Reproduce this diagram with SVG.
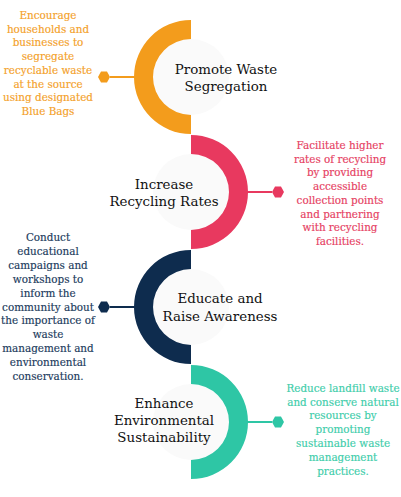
<svg xmlns="http://www.w3.org/2000/svg" width="401" height="497" viewBox="0 0 401 497">
<style>
.title{font-family:"DejaVu Serif","Liberation Serif",serif;font-size:13.4px;fill:#111;text-anchor:middle}
.desc{font-family:"DejaVu Serif","Liberation Serif",serif;font-size:10.4px;text-anchor:middle;stroke-width:0.15px}
.inner{fill:#fafafa}
.conn{stroke-width:2;fill:none}
</style>
<defs>
<polygon id="hex" points="-6,0 -3,-5.5 3,-5.5 6,0 3,5.5 -3,5.5"/>
</defs>
<rect width="401" height="497" fill="#ffffff"/>
<g id="connectors">
<line class="conn" x1="110" y1="77" x2="136" y2="77" stroke="#F39C1C"/>
<use href="#hex" x="104" y="77" fill="#F39C1C"/>
<line class="conn" x1="246" y1="192" x2="272" y2="192" stroke="#E8395F"/>
<use href="#hex" x="278" y="192" fill="#E8395F"/>
<line class="conn" x1="110" y1="307" x2="136" y2="307" stroke="#0E2C4E"/>
<use href="#hex" x="104" y="307" fill="#0E2C4E"/>
<line class="conn" x1="246" y1="422" x2="272" y2="422" stroke="#2EC6A5"/>
<use href="#hex" x="278" y="422" fill="#2EC6A5"/>
</g>
<g id="node1">
<circle class="inner" cx="191" cy="77" r="38"/>
<path d="M191,20 A57,57 0 0 0 191,134 L191,115 A38,38 0 0 1 191,39 Z" fill="#F39C1C"/>
<text class="title" x="226" y="74">Promote Waste</text>
<text class="title" x="226" y="91">Segregation</text>
<g class="desc" fill="#F4A12A" stroke="#F4A12A">
<text x="48" y="19">Encourage</text>
<text x="48" y="32.7">households and</text>
<text x="48" y="46.4">businesses to</text>
<text x="48" y="60.1">segregate</text>
<text x="48" y="73.8">recyclable waste</text>
<text x="48" y="87.5">at the source</text>
<text x="48" y="101.2">using designated</text>
<text x="48" y="114.9">Blue Bags</text>
</g>
</g>
<g id="node2">
<circle class="inner" cx="191" cy="192" r="38"/>
<path d="M191,135 A57,57 0 0 1 191,249 L191,230 A38,38 0 0 0 191,154 Z" fill="#E8395F"/>
<text class="title" x="164" y="188.5">Increase</text>
<text class="title" x="164" y="206">Recycling Rates</text>
<g class="desc" fill="#E63E62" stroke="#E63E62">
<text x="340" y="149">Facilitate higher</text>
<text x="340" y="162.7">rates of recycling</text>
<text x="340" y="176.4">by providing</text>
<text x="340" y="190.1">accessible</text>
<text x="340" y="203.8">collection points</text>
<text x="340" y="217.5">and partnering</text>
<text x="340" y="231.2">with recycling</text>
<text x="340" y="244.9">facilities.</text>
</g>
</g>
<g id="node3">
<circle class="inner" cx="191" cy="307" r="38"/>
<path d="M191,250 A57,57 0 0 0 191,364 L191,345 A38,38 0 0 1 191,269 Z" fill="#0E2C4E"/>
<text class="title" x="220" y="302.5">Educate and</text>
<text class="title" x="220" y="320.5">Raise Awareness</text>
<g class="desc" fill="#1A3A5C" stroke="#1A3A5C">
<text x="48" y="241">Conduct</text>
<text x="48" y="254.9">educational</text>
<text x="48" y="268.8">campaigns and</text>
<text x="48" y="282.7">workshops to</text>
<text x="48" y="296.6">inform the</text>
<text x="48" y="310.5">community about</text>
<text x="48" y="324.4">the importance of</text>
<text x="48" y="338.3">waste</text>
<text x="48" y="352.2">management and</text>
<text x="48" y="366.1">environmental</text>
<text x="48" y="380">conservation.</text>
</g>
</g>
<g id="node4">
<circle class="inner" cx="191" cy="422" r="38"/>
<path d="M191,365 A57,57 0 0 1 191,479 L191,460 A38,38 0 0 0 191,384 Z" fill="#2EC6A5"/>
<text class="title" x="164" y="407.7">Enhance</text>
<text class="title" x="164" y="425">Environmental</text>
<text class="title" x="164" y="442.3">Sustainability</text>
<g class="desc" fill="#3DCDAA" stroke="#3DCDAA">
<text x="343" y="391.7">Reduce landfill waste</text>
<text x="343" y="405.5">and conserve natural</text>
<text x="343" y="419.3">resources by</text>
<text x="343" y="433.1">promoting</text>
<text x="343" y="446.9">sustainable waste</text>
<text x="343" y="460.7">management</text>
<text x="343" y="474.5">practices.</text>
</g>
</g>
</svg>
